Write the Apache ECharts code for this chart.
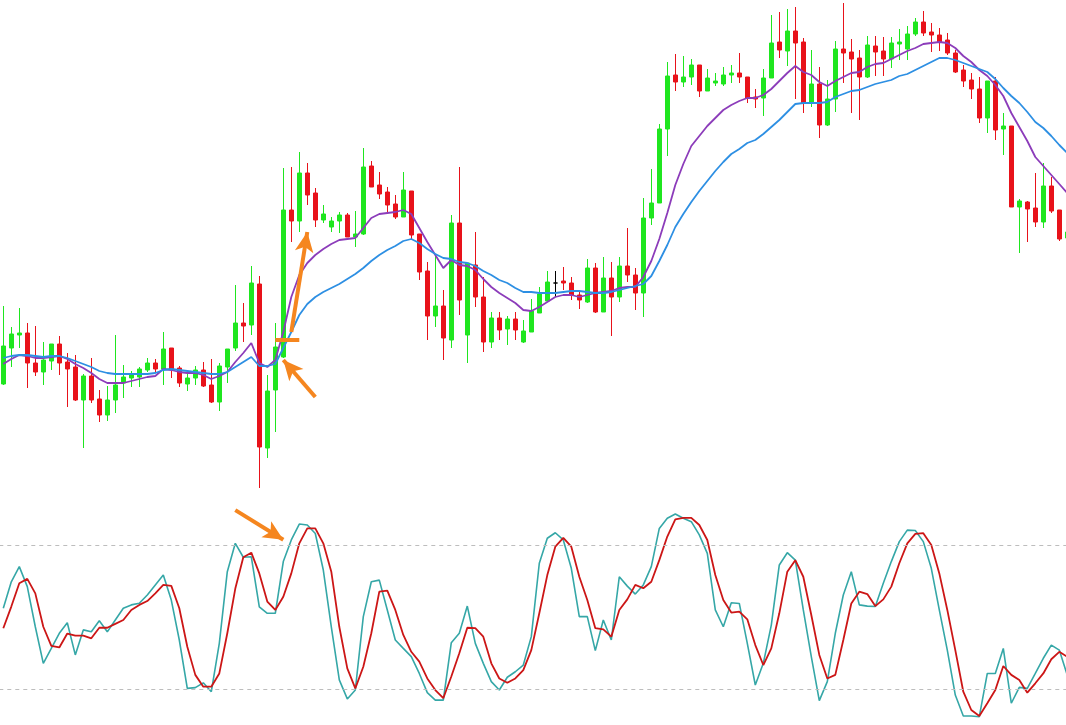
<!DOCTYPE html>
<html>
<head>
<meta charset="utf-8">
<title>Candles with MA and Stochastic</title>
<script src="https://cdn.jsdelivr.net/npm/echarts@6/dist/echarts.min.js"></script>
<style>
  html, body { margin: 0; padding: 0; background: #fff; }
  #chart { width: 1066px; height: 725px; }
</style>
</head>
<body>
<div id="chart"></div>
<script>
// OHLC per candle (points)
const opens = [116,152,165,167,137,128,139,156,138,133,100,124,101,85,100,117,122,123,130,137,
  131,152,132,116,122,130,115,98,133,152,177,175,216,52,110,143,290,279,327,307,
  280,273,279,285,263,266,334,315,308,296,283,309,266,229,184,194,160,277,165,235,
  203,158,182,171,181,158,168,187,199,217,219,217,205,198,232,188,222,203,234,225,
  207,282,297,371,425,418,423,435,409,417,416,425,427,423,403,402,422,458,449,469,
  458,397,416,375,401,451,448,442,423,454,449,441,456,451,466,478,468,465,460,447,
  430,420,411,382,419,371,374,293,298,292,278,314,290,262];
const closes = [154,166,167,137,128,140,156,137,131,100,124,100,85,100,115,123,126,131,137,131,
  151,131,117,122,130,114,98,134,151,177,174,217,53,109,153,290,279,327,305,280,
  286,279,285,263,266,333,313,306,295,283,310,265,228,184,194,162,277,200,237,203,
  158,182,170,181,170,169,189,206,218,217,217,205,200,232,188,222,203,234,225,207,
  282,297,371,424,418,423,435,409,422,419,425,427,423,402,401,422,457,450,469,457,
  397,416,375,401,451,447,441,423,455,448,441,457,458,466,478,467,465,458,447,428,
  419,411,382,419,370,374,293,299,291,278,314,289,261,268];
const lows = [115,133,152,112,124,115,130,125,93,99,52,97,78,79,87,102,113,113,128,128,
  115,122,113,109,115,113,97,89,117,149,158,165,12,42,68,142,258,268,295,273,
  277,268,267,263,253,265,313,301,288,281,283,260,220,160,173,140,152,185,137,193,
  148,152,160,155,160,157,168,187,198,203,210,200,191,197,187,188,164,198,218,190,
  183,275,297,344,409,413,415,403,409,414,414,417,417,397,392,384,422,442,434,401,
  387,393,362,374,388,417,387,380,422,424,424,432,440,440,464,464,448,449,445,427,
  413,401,377,367,360,345,293,247,258,273,272,287,259,260];
const highs = [194,173,192,177,174,158,156,164,147,145,126,142,110,114,165,135,129,133,142,141,
  168,152,134,127,134,138,141,137,151,215,197,234,224,125,177,332,333,348,337,312,
  295,283,288,287,289,352,339,328,313,305,328,309,266,238,245,210,285,333,237,268,
  223,188,188,184,188,180,201,213,229,229,233,223,210,241,237,243,238,243,272,232,
  302,331,376,438,446,444,441,435,431,427,433,435,447,423,411,431,485,488,491,493,
  462,450,433,420,459,497,461,450,464,464,463,463,471,474,482,489,477,472,467,450,
  435,427,423,419,423,387,374,301,299,327,337,323,290,272];

// moving averages (purple = fast, blue = slow)
const maFast = [136,141,145,144,142,142,143,144,141,136,132,127,121,117,117,117,119,121,123,124,
  131,130,128,127,127,125,121,124,128,138,147,157,137,133,140,168,203,225,237,245,
  251,256,260,261,262,272,282,286,287,288,290,286,272,258,245,232,240,235,234,230,
  221,213,207,202,197,190,189,193,198,203,205,205,203,205,207,208,209,212,213,213,
  223,239,261,287,315,336,354,364,374,382,390,395,399,402,402,405,411,419,427,434,
  428,425,418,414,419,423,427,428,433,436,437,441,445,449,452,456,457,458,457,452,
  444,438,430,424,415,404,387,373,359,343,334,325,316,307];
const maSlow = [142,144,145,145,144,143,144,144,142,139,136,133,129,127,126,126,126,126,126,127,
  130,131,130,129,128,127,126,126,128,133,138,143,134,134,136,152,168,185,196,203,
  208,212,216,221,226,232,239,245,250,254,259,261,257,251,246,242,241,238,237,234,
  229,225,220,217,212,208,208,207,207,207,208,209,209,208,207,207,208,210,212,214,
  216,224,239,255,273,286,298,309,319,329,338,346,351,357,360,366,373,380,388,396,
  397,397,397,398,403,406,409,410,413,416,418,420,424,426,430,434,438,442,442,440,
  437,434,431,428,421,412,404,397,388,378,372,364,355,347];

// stochastic %K (teal) and %D (red)
const stochK = [53.7,64.7,71.0,62.7,46.0,30.8,37.0,43.3,47.7,34.3,44.7,43.9,48.5,43.9,48.8,53.7,55.1,55.8,59.2,63.4,
  67.5,57.1,40.5,20.4,20.7,22.7,19.0,39.1,68.9,80.7,74.9,75.1,54.3,51.6,51.6,73.1,82.1,88.7,88.3,84.8,
  69.6,46.0,23.9,16.0,19.7,50.2,64.7,65.4,53.0,40.5,37.0,33.6,26.6,18.6,15.5,15.5,39.4,43.3,54.6,39.1,
  30.8,23.2,19.7,25.0,27.3,30.1,41.9,72.4,82.8,85.1,82.1,70.3,50.2,50.2,36.1,48.8,40.5,66.8,62.9,59.6,
  63.4,71.0,86.9,91.1,92.9,91.1,89.7,84.2,76.5,53.0,46.0,56.0,55.7,39.1,21.8,30.8,46.7,71.7,76.8,73.7,
  53.0,33.6,15.3,23.2,43.3,59.2,68.9,55.1,54.6,54.4,64.1,73.1,81.4,86.2,86.0,81.4,70.3,53.0,36.3,17.6,
  8.9,8.9,8.6,26.6,26.6,37.0,14.2,20.8,20.4,26.6,32.9,38.4,36.3,25.9];
const stochD = [45.4,54.4,64.1,65.9,59.9,46.0,38.1,37.4,43.2,42.3,42.3,41.2,45.6,45.6,47.2,48.8,53.0,55.1,56.7,59.9,
  63.4,63.0,53.7,37.7,26.0,21.1,21.1,26.6,43.3,61.9,74.9,76.8,68.2,56.5,53.0,58.5,68.2,80.7,86.9,86.9,
  80.7,68.9,46.0,28.7,20.4,29.4,43.3,60.6,61.0,53.0,42.6,35.6,31.5,24.5,19.7,16.3,25.3,35.0,45.6,45.4,
  41.9,30.8,24.5,22.7,24.5,28.0,36.3,51.6,67.5,79.3,83.0,79.3,66.8,57.1,45.4,44.9,41.9,53.0,57.4,63.4,
  62.0,64.7,73.7,83.5,90.7,91.3,91.3,88.3,82.1,67.5,57.1,51.9,52.3,49.1,38.4,30.1,37.0,51.6,68.9,73.7,
  66.8,50.9,34.3,24.5,26.0,40.5,55.7,60.6,59.6,54.6,57.4,62.7,72.4,80.7,84.6,84.9,80.0,68.2,53.0,36.3,
  19.0,11.4,8.9,14.2,19.7,29.7,26.0,23.9,18.6,22.5,26.6,32.5,35.6,33.5];
const levels = [80, 20];

// orange hand-drawn annotations, in [candle index, value]
const priceArrows = [
  [[39.1, 103], [35.2, 140]],
  [[35.5, 168], [37.8, 268]]
];
const priceMark = [[33.6, 160], [36.5, 160]];
const stochArrow = [[29, 94.5], [35, 82.2]];

const categories = opens.map((_, i) => String(i));

const UP = '#1fe61f';
const DOWN = '#e8121a';
const ORANGE = '#f5861f';

const candles = opens.map((o, i) => {
  const item = { value: [o, closes[i], lows[i], highs[i]] };
  if (o === closes[i]) {
    item.itemStyle = { color: '#000', color0: '#000', borderColor: '#000', borderColor0: '#000' };
  }
  return item;
});

const chart = echarts.init(document.getElementById('chart'));

const arrowLine = (pair) => [
  { coord: pair[0], symbol: 'none' },
  { coord: pair[1], symbol: 'arrow', symbolSize: [14, 20] }
];

chart.setOption({
  animation: false,
  backgroundColor: '#fff',
  grid: [
    { left: -0.7, top: 0, width: 1072, height: 500, outerBoundsMode: 'none' },
    { left: -0.7, top: 496.9, width: 1072, height: 228.1, outerBoundsMode: 'none' }
  ],
  xAxis: [
    { type: 'category', data: categories, gridIndex: 0, show: false },
    { type: 'category', data: categories, gridIndex: 1, show: false }
  ],
  yAxis: [
    { type: 'value', gridIndex: 0, min: 0, max: 500, show: false },
    { type: 'value', gridIndex: 1, min: 5.16, max: 100, show: false }
  ],
  series: [
    {
      name: 'Price',
      type: 'candlestick',
      xAxisIndex: 0,
      yAxisIndex: 0,
      barWidth: 5,
      data: candles,
      itemStyle: {
        color: UP,
        color0: DOWN,
        borderColor: UP,
        borderColor0: DOWN,
        borderWidth: 1
      },
      markLine: {
        silent: true,
        animation: false,
        label: { show: false },
        lineStyle: { color: ORANGE, width: 4, type: 'solid' },
        data: [
          ...priceArrows.map(arrowLine),
          [
            { coord: priceMark[0], symbol: 'none' },
            { coord: priceMark[1], symbol: 'none' }
          ]
        ]
      }
    },
    {
      name: 'MA fast',
      type: 'line',
      data: maFast,
      symbol: 'none',
      lineStyle: { color: '#8c3cba', width: 1.8 },
      z: 3
    },
    {
      name: 'MA slow',
      type: 'line',
      data: maSlow,
      symbol: 'none',
      lineStyle: { color: '#2d8fe3', width: 1.8 },
      z: 3
    },
    {
      name: '%K',
      type: 'line',
      xAxisIndex: 1,
      yAxisIndex: 1,
      data: stochK,
      symbol: 'none',
      lineStyle: { color: '#35a7a7', width: 1.6 },
      markLine: {
        silent: true,
        animation: false,
        symbol: 'none',
        label: { show: false },
        lineStyle: { color: '#bdbdbd', width: 1, type: [4, 4] },
        data: levels.map(v => ({ yAxis: v }))
      }
    },
    {
      name: '%D',
      type: 'line',
      xAxisIndex: 1,
      yAxisIndex: 1,
      data: stochD,
      symbol: 'none',
      lineStyle: { color: '#cc1616', width: 1.8 },
      markLine: {
        silent: true,
        animation: false,
        label: { show: false },
        lineStyle: { color: ORANGE, width: 4, type: 'solid' },
        data: [arrowLine(stochArrow)]
      }
    }
  ]
});
</script>
</body>
</html>
